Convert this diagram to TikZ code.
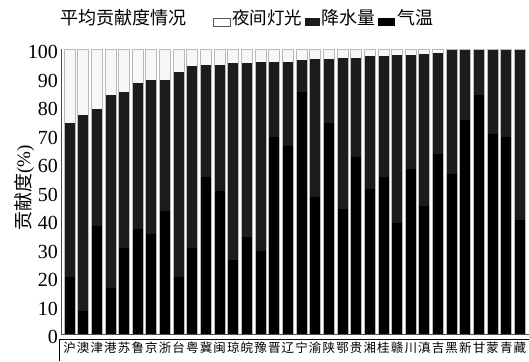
\documentclass[tikz,border=0pt]{standalone}
\usepackage{fontspec}
\setmainfont{Liberation Serif}
\newfontfamily\cjk{Noto Sans CJK SC}

\tikzset{
    barframe/.style={draw=gray!55, line width=0.9pt},
    tempfill/.style={fill=black},
    rainfill/.style={fill=black!89},
    lightfill/.style={fill=gray!6},
    cjklabel/.style={font=\cjk\fontsize{12.5}{13}\selectfont, inner sep=0pt},
    legendtext/.style={font=\cjk\fontsize{17.5}{19}\selectfont, anchor=west, inner sep=1pt},
}

\begin{document}
\begin{tikzpicture}[x=1pt,y=1pt]
        \fill[white] (0,0) rectangle (529,361); % Background
        \useasboundingbox (0,0) rectangle (529,361);

        % Stacked bars: index / province / temperature / temperature + rainfall
        \foreach \i/\p/\t/\r in {0/沪/20/74, 1/澳/8/77, 2/津/38/79, 3/港/16/84, 4/苏/30/85,
            5/鲁/37/88, 6/京/35/89, 7/浙/43/89, 8/台/20/92, 9/粤/30/94,
            10/冀/55/94.5, 11/闽/50/94.5, 12/琼/26/95, 13/皖/34/95, 14/豫/29/95.5,
            15/晋/69/95.5, 16/辽/66/95.5, 17/宁/85/96, 18/渝/48/96.5, 19/陕/74/96.5,
            20/鄂/44/97, 21/贵/62/97, 22/湘/51/97.5, 23/桂/55/97.7, 24/赣/39/98,
            25/川/58/98, 26/滇/45/98.4, 27/吉/63/98.6, 28/黑/56/100, 29/新/75/100,
            30/甘/84/100, 31/蒙/70/100, 32/青/69/100, 33/藏/40/100} {
            \pgfmathsetmacro{\xl}{64+13.65*\i}
            \pgfmathsetmacro{\xr}{\xl+11}
            \fill[tempfill] (\xl,27) rectangle (\xr,{27+2.85*\t}); % Temperature
            \fill[rainfill] (\xl,{27+2.85*\t}) rectangle (\xr,{27+2.85*\r}); % Rainfall
            \fill[lightfill] (\xl,{27+2.85*\r}) rectangle (\xr,312); % Night light
            \draw[barframe] (\xl,27) rectangle (\xr,312);
            \node[cjklabel] (prov\i) at ({\xl+5.5},13) {\p}; % Province
        }

        % Axes
        \draw[gray!60!black, line width=1pt] (61,27) -- (61,312); % y axis
        \draw[gray!60!black, line width=1pt] (61,27) -- (529,27); % x axis
        \draw[line width=0.9pt] (59,0) -- (59,22) -- (529,22); % Province box

        % y tick labels
        \foreach \v in {0,10,...,100} {
            \node[anchor=east, inner sep=0pt, font=\fontsize{20}{20}\selectfont] (tick\v) at (58,{24+2.85*\v}) {\v};
        }
        \node[rotate=90, font=\fontsize{19}{20}\selectfont] (ytitle) at (24,173) {{\cjk 贡献度}(\%)};

        % Title and legend
        \node[font=\cjk\fontsize{18}{20}\selectfont] (title) at (123,343) {平均贡献度情况};
        \draw[gray!70!black, fill=white, line width=0.9pt] (213,335) rectangle (230,343); % Night light key
        \node[legendtext] (keylight) at (231,343) {夜间灯光};
        \fill[rainfill] (305,335) rectangle (320,343); % Rainfall key
        \node[legendtext, font=\cjk\fontsize{18}{19}\selectfont] (keyrain) at (320,343) {降水量};
        \fill[tempfill] (378,335) rectangle (395,343); % Temperature key
        \node[legendtext, font=\cjk\fontsize{18}{19}\selectfont] (keytemp) at (396,343) {气温};
\end{tikzpicture}
\end{document}
